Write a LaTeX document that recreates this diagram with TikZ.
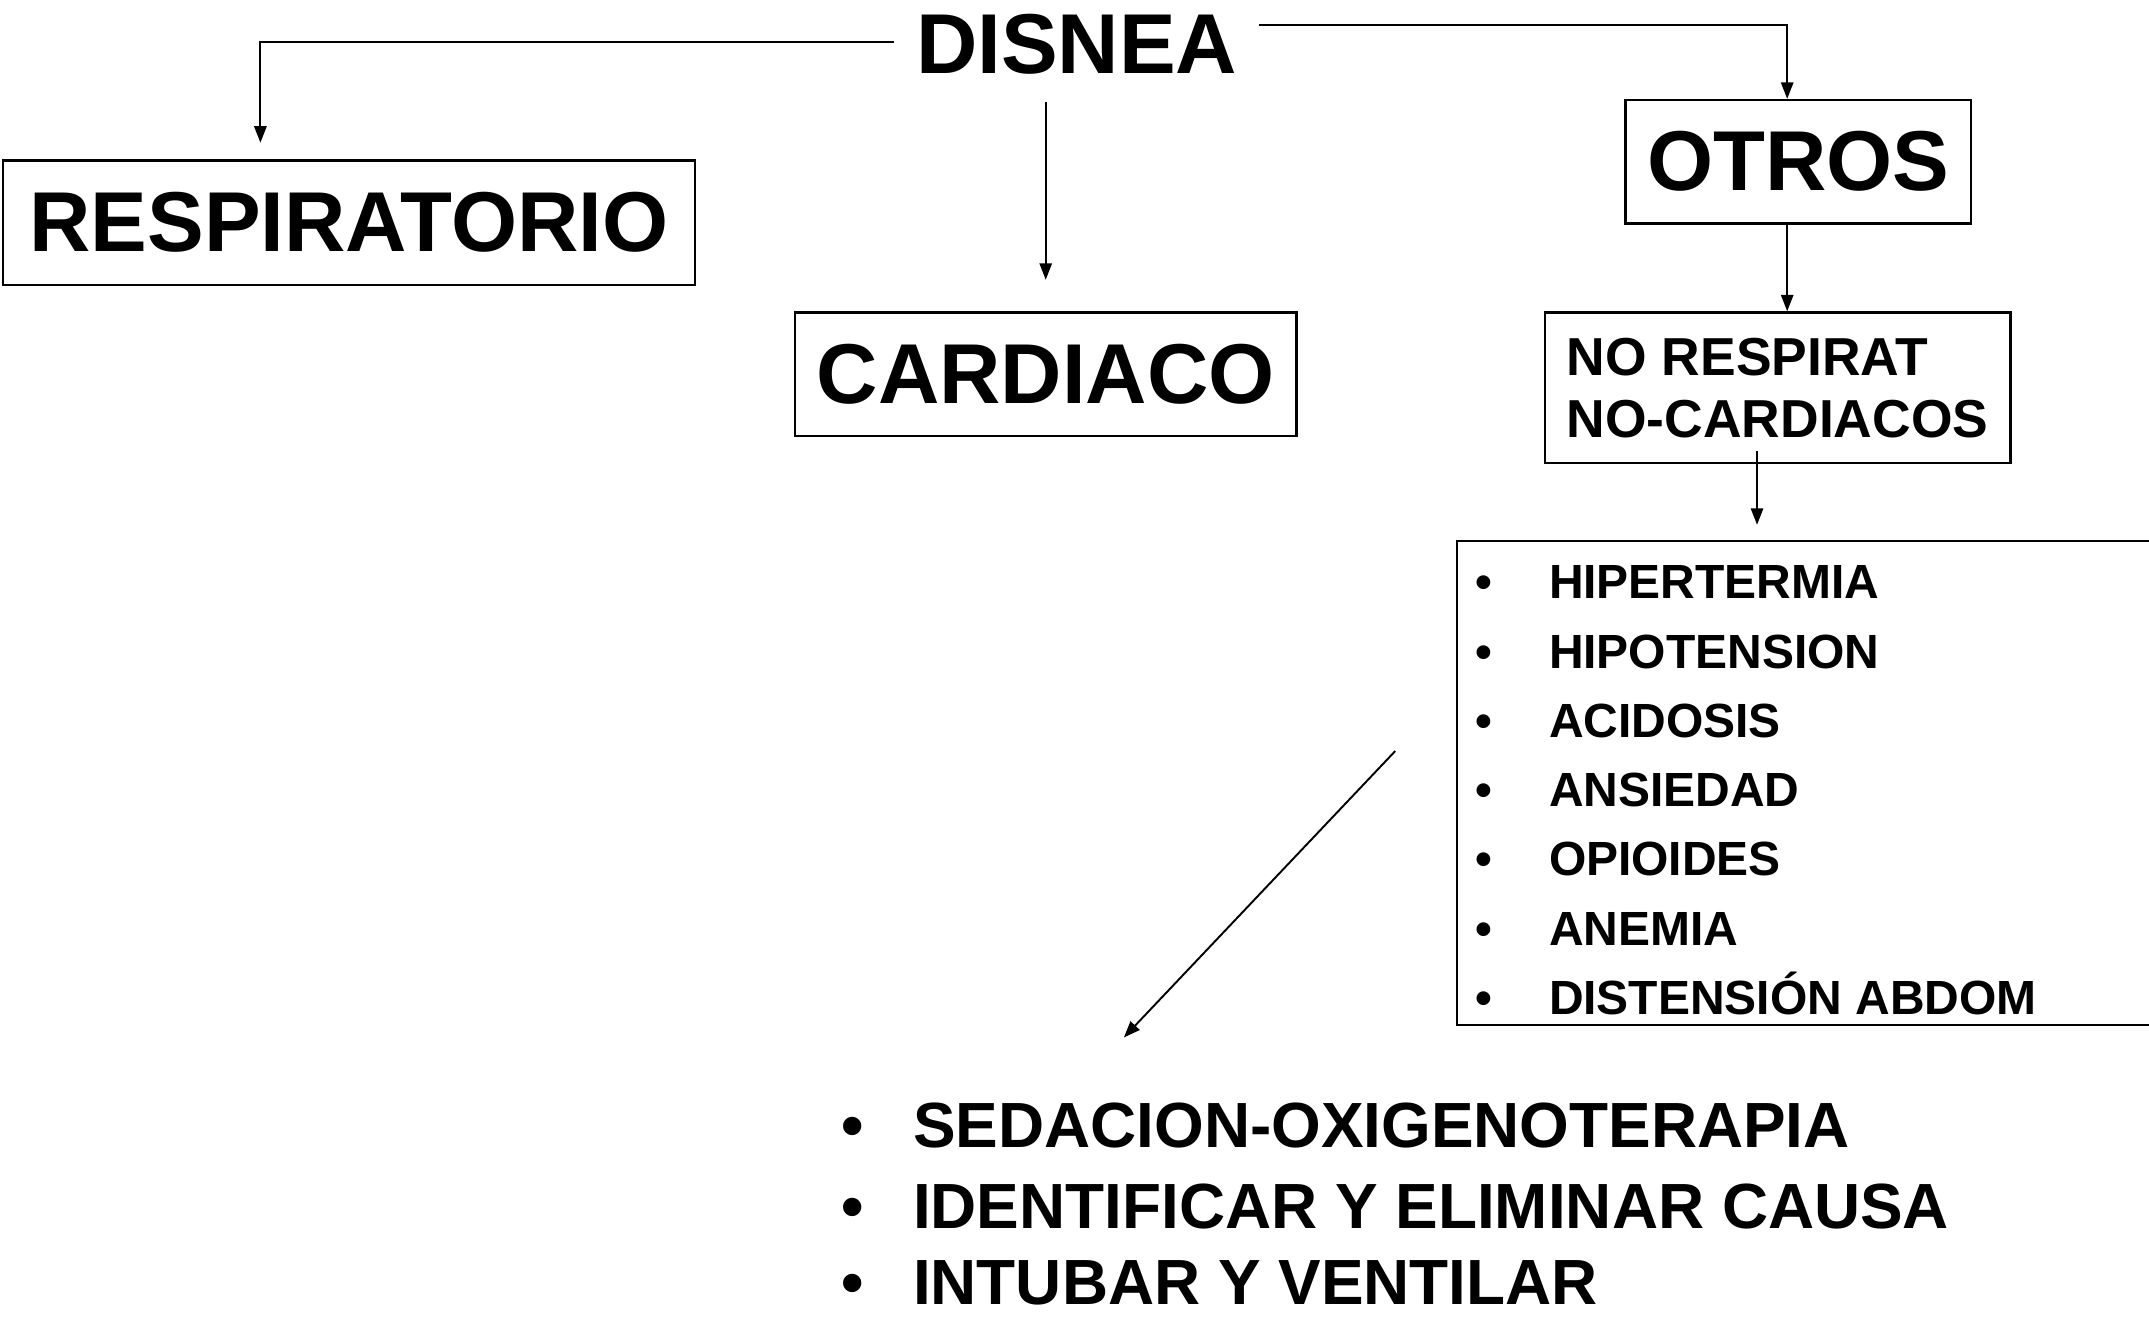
\documentclass[tikz,border=0pt]{standalone}
\usepackage{fontspec}
\setmainfont{Liberation Sans}
\usetikzlibrary{arrows.meta}
\begin{document}
\begin{tikzpicture}[x=1pt,y=-1pt,
  big/.style={font=\fontsize{62}{70}\selectfont\bfseries},
  box/.style={draw,line width=1.8pt,inner sep=0pt,big},
  arr/.style={line width=1.4pt,-{Triangle[length=12pt,width=9pt]}},
  itm/.style={font=\fontsize{35}{40}\selectfont\bfseries,anchor=base west,inner sep=0pt},
  bul/.style={font=\fontsize{35}{40}\selectfont\bfseries,anchor=base,inner sep=0pt},
  itmb/.style={font=\fontsize{46.6}{55}\selectfont\bfseries,anchor=base west,inner sep=0pt},
  bulb/.style={font=\fontsize{46.6}{55}\selectfont\bfseries,anchor=base,inner sep=0pt}]
\useasboundingbox (0,0) rectangle (1568,962);
\node[big,inner sep=0pt,inner xsep=16pt] (disnea) at (785.5,32.5) {DISNEA};
\node[box,minimum width=505pt,minimum height=91pt] (resp) at (254.5,162.5) {RESPIRATORIO};
\node[box,minimum width=366pt,minimum height=90pt] (card) at (763,273) {CARDIACO};
\node[box,minimum width=252pt,minimum height=90pt] (otros) at (1312,118) {OTROS};
\node[draw,line width=1.8pt,inner sep=0pt,inner xsep=16pt,minimum width=338pt,minimum height=110pt,align=left,
  font=\fontsize{39}{45}\selectfont\bfseries] (nores) at (1297,283) {NO RESPIRAT\\NO-CARDIACOS};
\node[draw,line width=1.8pt,inner sep=0pt,minimum width=530pt,minimum height=353pt,anchor=north west] (list) at (1062,394) {};
\node[bul] (b1) at (1083,437) {•};   \node[itm] (i1) at (1130,437) {HIPERTERMIA};
\node[bul] (b2) at (1083,487.5) {•}; \node[itm] (i2) at (1130,487.5) {HIPOTENSION};
\node[bul] (b3) at (1083,538) {•};   \node[itm] (i3) at (1130,538) {ACIDOSIS};
\node[bul] (b4) at (1083,588.5) {•}; \node[itm] (i4) at (1130,588.5) {ANSIEDAD};
\node[bul] (b5) at (1083,639) {•};   \node[itm] (i5) at (1130,639) {OPIOIDES};
\node[bul] (b6) at (1083,689.5) {•}; \node[itm] (i6) at (1130,689.5) {ANEMIA};
\node[bul] (b7) at (1083,740) {•};   \node[itm] (i7) at (1130,740) {DISTENSIÓN ABDOM};
\node[bulb] (c1) at (622,837) {•}; \node[itmb] (s1) at (666,837) {SEDACION-OXIGENOTERAPIA};
\node[bulb] (c2) at (622,896) {•}; \node[itmb] (s2) at (666,896) {IDENTIFICAR Y ELIMINAR CAUSA};
\node[bulb] (c3) at (622,952) {•}; \node[itmb] (s3) at (666,952) {INTUBAR Y VENTILAR};
\draw[arr] ([yshift=2pt]disnea.west) -| ([xshift=-64.5pt,yshift=12pt]resp.north);
\draw[arr] ([yshift=14pt]disnea.east) -| ([xshift=-8pt]otros.north);
\draw[arr] ([yshift=-20pt]disnea.south -| card.north) -- ([yshift=23pt]card.north);
\draw[arr] ([xshift=-8pt]otros.south) -- ([xshift=-8pt]otros.south |- nores.north);
\draw[arr] ([xshift=-15pt,yshift=10pt]nores.south) -- ++(0,54);
\coordinate (d1) at (1018,548);
\coordinate (d2) at (820,757);
\draw[arr] (d1) -- (d2);
\end{tikzpicture}
\end{document}
